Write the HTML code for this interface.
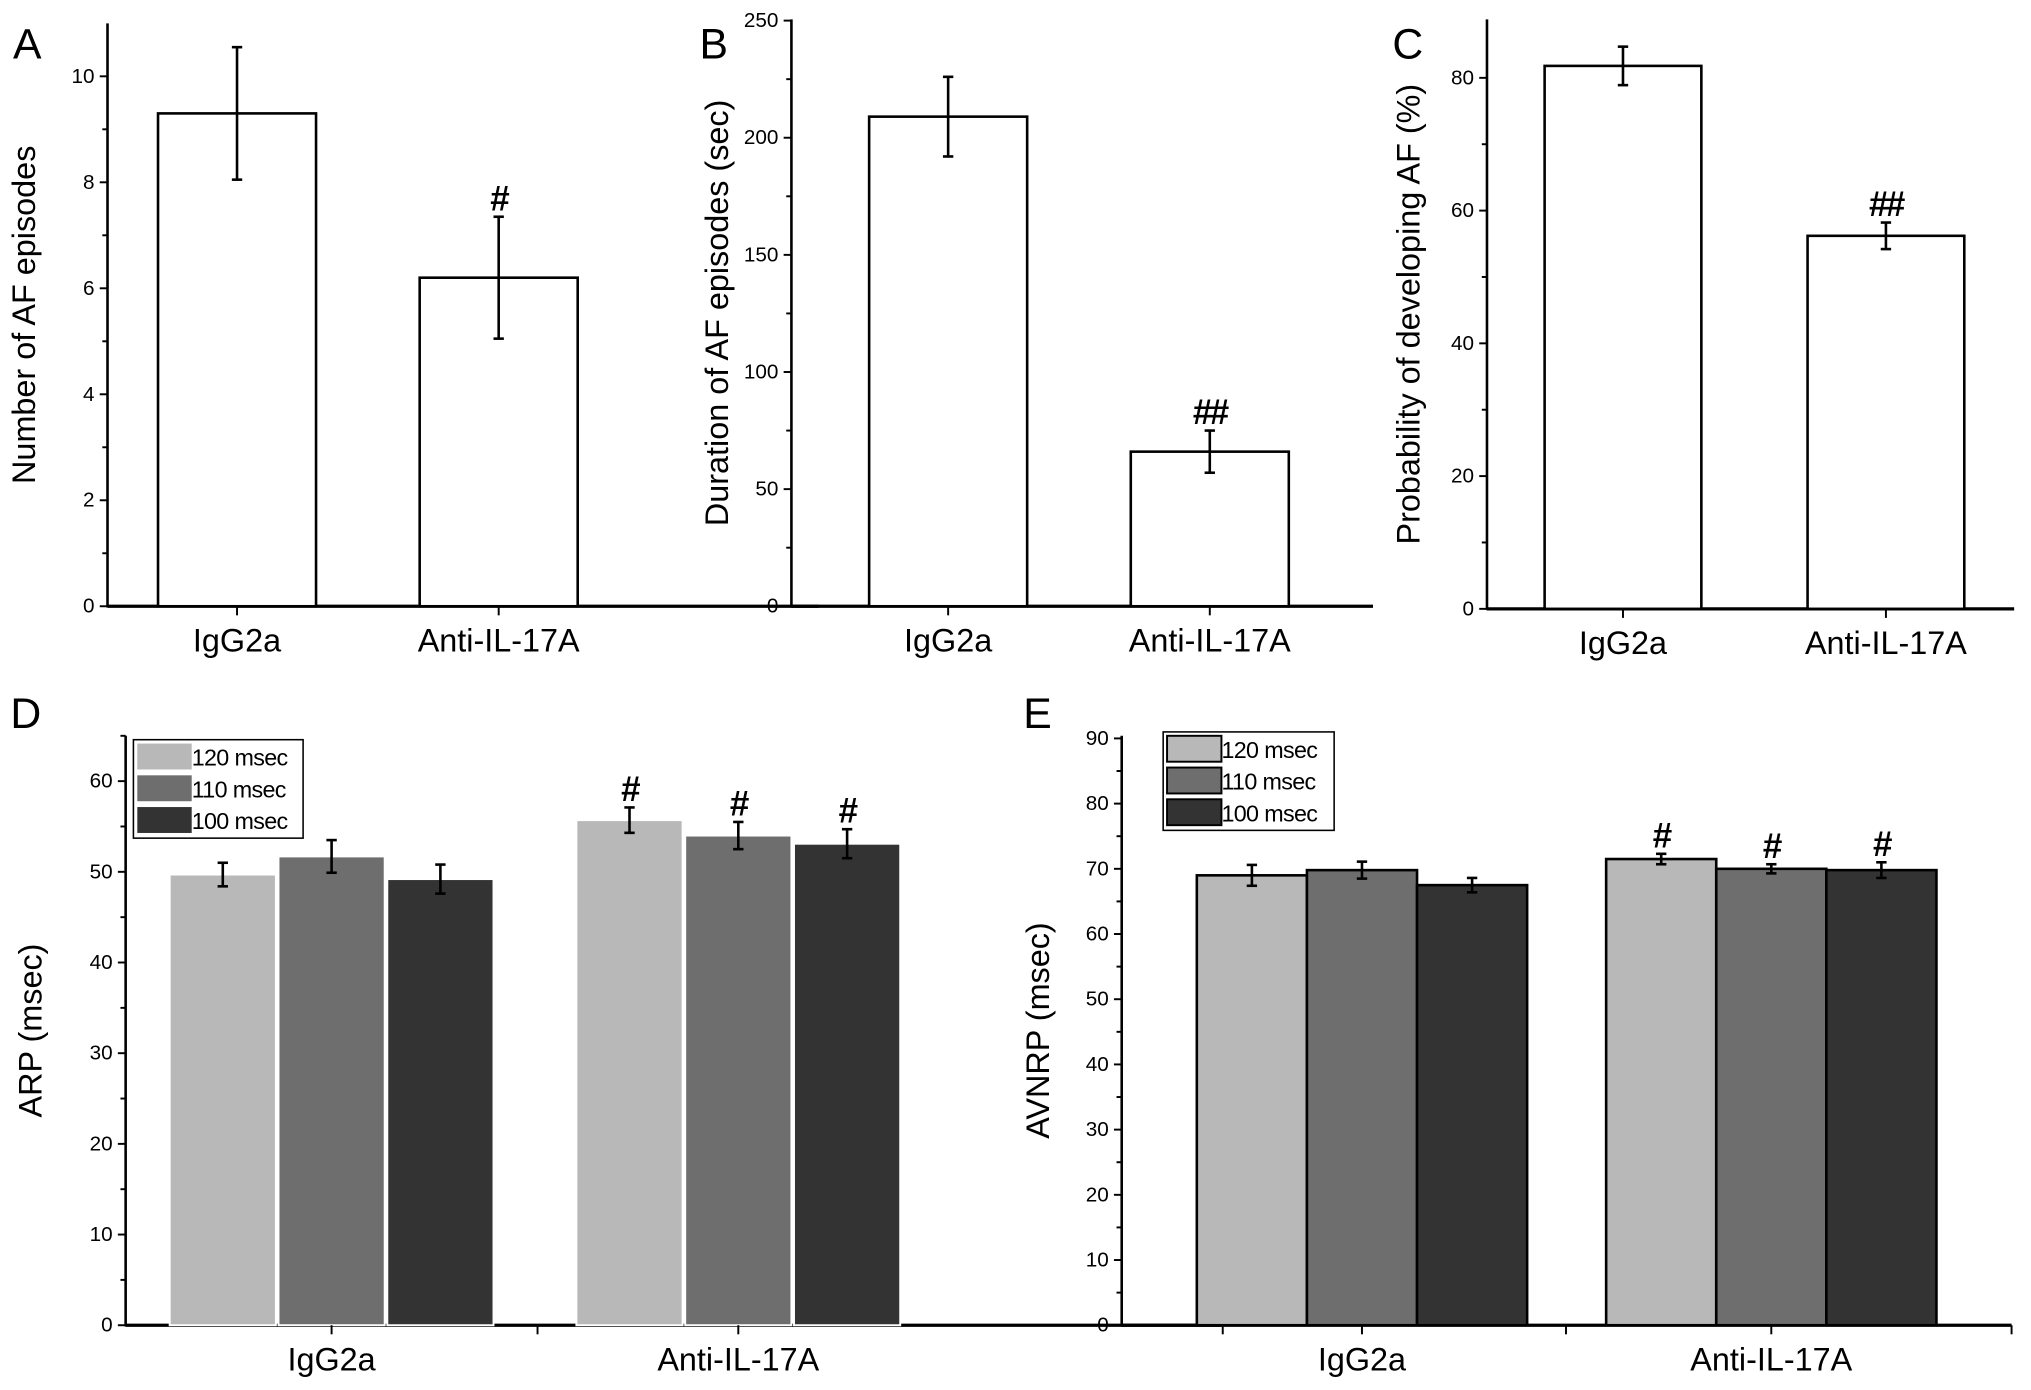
<!DOCTYPE html>
<html><head><meta charset="utf-8"><style>
html,body{margin:0;padding:0;background:#fff;}
svg{display:block;}
text{font-family:"Liberation Sans",sans-serif;fill:#000;}
</style></head><body>
<svg id="fig" width="2031" height="1390" viewBox="0 0 1568 1073" preserveAspectRatio="none" xmlns="http://www.w3.org/2000/svg"></svg>
<script>
// Data
const catsTop = ["IgG2a", "Anti-IL-17A"];
const aVals = [9.3, 6.2];
const aErr = [1.25, 1.15];
const aSig = ["", "#"];
const aTicks = [0, 2, 4, 6, 8, 10];
const bVals = [209, 66];
const bErr = [17, 9];
const bSig = ["", "##"];
const bTicks = [0, 50, 100, 150, 200, 250];
const cVals = [81.8, 56.2];
const cErr = [2.9, 2.0];
const cSig = ["", "##"];
const cTicks = [0, 20, 40, 60, 80];
const seriesNames = ["120 msec", "110 msec", "100 msec"];
const dVals120 = [49.7, 55.7];
const dVals110 = [51.7, 54.0];
const dVals100 = [49.2, 53.1];
const dErr120 = [1.3, 1.4];
const dErr110 = [1.8, 1.5];
const dErr100 = [1.6, 1.6];
const dSig = ["", "#"];
const dTicks = [0, 10, 20, 30, 40, 50, 60];
const eVals120 = [69.0, 71.5];
const eVals110 = [69.8, 70.0];
const eVals100 = [67.5, 69.8];
const eErr120 = [1.6, 0.8];
const eErr110 = [1.3, 0.7];
const eErr100 = [1.1, 1.2];
const eSig = ["", "#"];
const eTicks = [0, 10, 20, 30, 40, 50, 60, 70, 80, 90];

const NS = "http://www.w3.org/2000/svg";
const svg = document.getElementById("fig");
function mk(tag, attrs, parent, txt) {
  const e = document.createElementNS(NS, tag);
  for (const k in attrs) e.setAttribute(k, attrs[k]);
  if (txt !== undefined) e.textContent = txt;
  (parent || svg).appendChild(e);
  return e;
}
function errBar(g, x, y1, y2, cap) {
  mk("line", {x1: x, x2: x, y1: y1, y2: y2, stroke: "#000", "stroke-width": 2}, g);
  mk("line", {x1: x - cap, x2: x + cap, y1: y1, y2: y1, stroke: "#000", "stroke-width": 2}, g);
  mk("line", {x1: x - cap, x2: x + cap, y1: y2, y2: y2, stroke: "#000", "stroke-width": 2}, g);
}
function sigText(g, x, y, s) {
  mk("text", {x: x, y: y, "text-anchor": "middle", "font-size": 27, "font-family": "Liberation Serif, serif", "font-weight": "bold", "letter-spacing": "-2"}, g, s);
}
function axes(g, o) {
  const y = v => o.y0 - (v / o.vmax) * (o.y0 - o.ytop);
  mk("line", {x1: o.x0, x2: o.x0, y1: o.ytop, y2: o.y0 + 1, stroke: "#000", "stroke-width": 2}, g);
  mk("line", {x1: o.x0, x2: o.xr, y1: o.y0, y2: o.y0, stroke: "#000", "stroke-width": 2.5}, g);
  o.ticks.forEach((t, i) => {
    const ty = y(t);
    const tk = mk("line", {x1: o.x0 - 6, x2: o.x0, y1: ty, y2: ty, stroke: "#000", "stroke-width": 1.5}, g);
    
    
    if (i < o.ticks.length - 1 || o.halfLast) {
      const my = y(t + (o.ticks[1] - o.ticks[0]) / 2);
      if (my >= o.ytop - 1) mk("line", {x1: o.x0 - 4, x2: o.x0, y1: my, y2: my, stroke: "#000", "stroke-width": 1.5}, g);
    }
    const lb = mk("text", {x: o.x0 - 10, y: ty + 5, "text-anchor": "end", "font-size": 16}, g, t);
    
    
  });
  const cy = (o.ytop + o.y0) / 2;
  const yt = mk("text", {x: o.titleX, y: cy, "text-anchor": "middle", "font-size": 25, transform: `rotate(-90 ${o.titleX} ${cy})`}, g, o.title);
  
  
  return y;
}
function simplePanel(name, o, vals, errs, sig) {
  const g = mk("g", {}, svg);
  
  
  const y = axes(g, o);
  vals.forEach((v, i) => {
    const cx = o.centers[i];
    const r = mk("rect", {x: cx - o.bw / 2, y: y(v), width: o.bw, height: o.y0 - y(v), fill: "#fff", stroke: "#000", "stroke-width": 2}, g);
    
    
    errBar(g, cx, y(v + errs[i]), y(v - errs[i]), 4);
    if (sig[i]) sigText(g, cx, y(v + errs[i]) - 5, sig[i]);
    mk("line", {x1: cx, x2: cx, y1: o.y0, y2: o.y0 + 7, stroke: "#000", "stroke-width": 1.5}, g);
    const cl = mk("text", {x: cx, y: o.y0 + 35, "text-anchor": "middle", "font-size": 25}, g, catsTop[i]);
    
    
  });
  const L = mk("text", {x: o.letterX, y: 45, "font-size": 33}, g, o.letter);
  
  
}
simplePanel("panel-a", {x0: 83, y0: 468, ytop: 18, xr: 632, vmax: 11, ticks: aTicks, title: "Number of AF episodes", titleX: 27, centers: [183, 385], bw: 122, letter: "A", letterX: 10}, aVals, aErr, aSig);
simplePanel("panel-b", {x0: 611, y0: 468, ytop: 15, xr: 1060, vmax: 250.5, ticks: bTicks, title: "Duration of AF episodes (sec)", titleX: 562, centers: [732, 934], bw: 122, letter: "B", letterX: 540}, bVals, bErr, bSig);
simplePanel("panel-c", {x0: 1148, y0: 470, ytop: 15, xr: 1555, vmax: 88.8, ticks: cTicks, title: "Probability of developing AF (%)", titleX: 1096, centers: [1253, 1456], bw: 121, letter: "C", letterX: 1075}, cVals, cErr, cSig);

const cols = ["#b8b8b8", "#6e6e6e", "#333333"];
function groupPanel(name, o, vals, errs, sig) {
  const g = mk("g", {}, svg);
  
  
  const y = axes(g, o);
  for (let c = 0; c < 2; c++) {
    for (let s = 0; s < 3; s++) {
      const v = vals[s][c], e = errs[s][c];
      const x = o.gstart[c] + s * o.step;
      const r = mk("rect", {x: x, y: y(v), width: o.bw, height: o.y0 - y(v), fill: cols[s], stroke: o.border ? "#000" : "#fff", "stroke-width": o.border ? 2 : 1.5}, g);
      
      
      const cx = x + o.bw / 2;
      errBar(g, cx, y(v + e), y(v - e), 4);
      if (sig[c]) sigText(g, cx, y(v + e) - 5, sig[c]);
    }
    const cx = o.gstart[c] + (3 * o.step - (o.step - o.bw)) / 2;
    mk("line", {x1: cx, x2: cx, y1: o.y0, y2: o.y0 + 7, stroke: "#000", "stroke-width": 1.5}, g);
    const cl = mk("text", {x: cx, y: o.y0 + 35, "text-anchor": "middle", "font-size": 25}, g, catsTop[c]);
    
    
  }
  mk("line", {x1: o.mid, x2: o.mid, y1: o.y0, y2: o.y0 + 7, stroke: "#000", "stroke-width": 1.5}, g);
  mk("line", {x1: o.xr, x2: o.xr, y1: o.y0, y2: o.y0 + 7, stroke: "#000", "stroke-width": 1.5}, g);
  const lg = mk("g", {}, g);
  
  
  mk("rect", {x: o.lx, y: o.ly, width: o.lw, height: 76, fill: "#fff", stroke: "#000", "stroke-width": 1.2}, lg);
  seriesNames.forEach((n, s) => {
    const ry = o.ly + 3 + s * 24.5;
    const sw = mk("rect", {x: o.lx + 3, y: ry, width: 42, height: 20, fill: cols[s], stroke: o.border ? "#000" : "none", "stroke-width": 1.5}, lg);
    
    
    const t = mk("text", {x: o.lx + 45, y: ry + 17, "font-size": 18, "letter-spacing": "-0.5"}, lg, n);
    
    
  });
  const L = mk("text", {x: o.letterX, y: 562, "font-size": 33}, g, o.letter);
  
  
}
groupPanel("panel-d", {x0: 97, y0: 1023, ytop: 568, xr: 944, vmax: 65, ticks: dTicks, halfLast: true, title: "ARP (msec)", titleX: 32,
  gstart: [131, 445], step: 84, bw: 82, mid: 415, lx: 103, ly: 571, lw: 131, letter: "D", letterX: 8, border: false},
  [dVals120, dVals110, dVals100], [dErr120, dErr110, dErr100], dSig);
groupPanel("panel-e", {x0: 866, y0: 1023, ytop: 568, xr: 1553, vmax: 90.4, ticks: eTicks, title: "AVNRP (msec)", titleX: 810,
  gstart: [924, 1240], step: 85, bw: 85, mid: 1209, lx: 898, ly: 565, lw: 132, letter: "E", letterX: 790, border: true},
  [eVals120, eVals110, eVals100], [eErr120, eErr110, eErr100], eSig);
</script>
</body></html>
